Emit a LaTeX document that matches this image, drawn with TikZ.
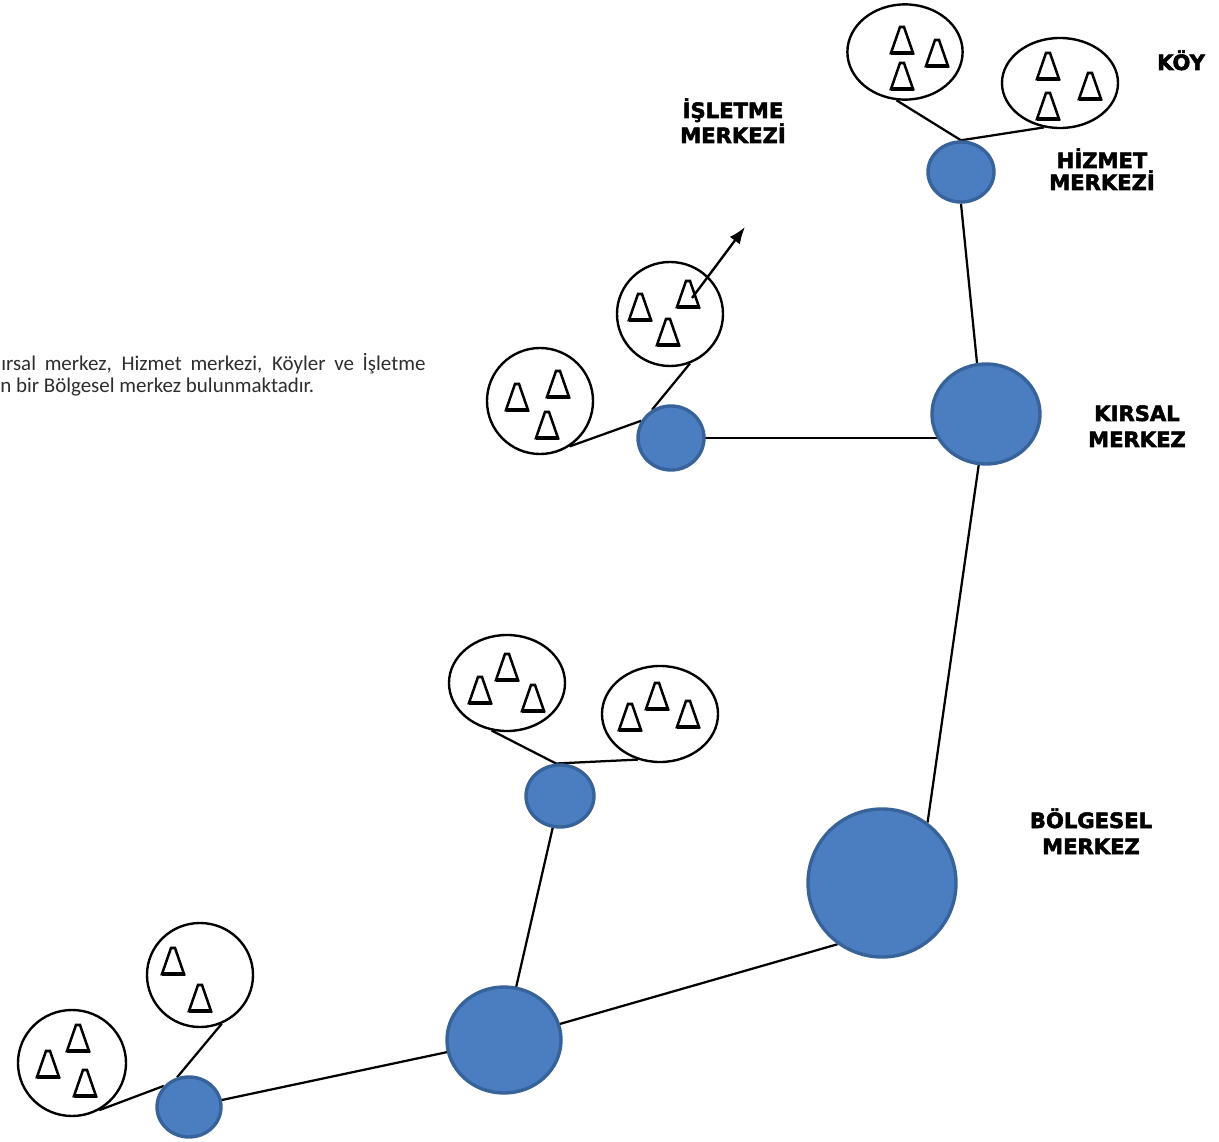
\documentclass[tikz,border=0pt]{standalone}
\usepackage{fontspec}
\setmainfont{Carlito}
\newfontfamily\lblfont[BoldFeatures={FakeBold=2.5}]{DejaVu Sans}
\usetikzlibrary{shapes.geometric,arrows.meta,backgrounds}
\definecolor{nodeblue}{HTML}{4A7EC1}
\definecolor{nodeedge}{HTML}{38629A}
\tikzset{
  village/.style={ellipse, draw=black, line width=1.7pt, inner sep=0pt},
  hub/.style={ellipse, fill=nodeblue, draw=nodeedge, line width=2.4pt, inner sep=0pt},
  link/.style={draw=black, line width=1.6pt},
  lbl/.style={font=\lblfont\bfseries\fontsize{15pt}{18pt}\selectfont, anchor=base, inner sep=0pt},
  body/.style={font=\fontsize{14.9pt}{18pt}\selectfont, text=black!82, inner sep=0pt, anchor=base west},
  tri/.pic={
    \draw[line width=1.8pt, line join=miter] (-11,13) -- (-2,-13) -- (2,-13) -- (11,13) -- cycle;
    \draw[line width=2.6pt] (-11.5,13) -- (11.5,13);
  }
}
\begin{document}
\begin{tikzpicture}[x=0.025cm, y=-0.025cm]
\useasboundingbox (0,0) rectangle (1219,1142);

% centres
\node[hub, minimum width=3.7cm, minimum height=3.7cm] (B) at (882,883) {};
\node[hub, minimum width=2.7cm, minimum height=2.5cm] (K) at (986,414) {};
\node[hub, minimum width=2.85cm, minimum height=2.65cm] (M) at (504,1040) {};
\node[hub, minimum width=1.65cm, minimum height=1.5cm] (H1) at (961,172) {};
\node[hub, minimum width=1.65cm, minimum height=1.6cm] (H2) at (671,438) {};
\node[hub, minimum width=1.7cm, minimum height=1.55cm] (H3) at (560,796) {};
\node[hub, minimum width=1.6cm, minimum height=1.5cm] (H4) at (189,1107) {};

% villages
\node[village, minimum width=2.88cm, minimum height=2.38cm] (E1) at (905,52) {};
\node[village, minimum width=2.9cm, minimum height=2.25cm] (E2) at (1060,83) {};
\node[village, minimum width=2.65cm, minimum height=2.6cm] (E3) at (670,314) {};
\node[village, minimum width=2.65cm, minimum height=2.65cm] (E4) at (540,401) {};
\node[village, minimum width=2.65cm, minimum height=2.6cm] (E5) at (200,975) {};
\node[village, minimum width=2.7cm, minimum height=2.65cm] (E6) at (72,1063) {};
\node[village, minimum width=2.9cm, minimum height=2.4cm] (E7) at (507,683) {};
\node[village, minimum width=2.9cm, minimum height=2.4cm] (E8) at (660,714) {};

% triangles
\pic at (902,40) {tri}; \pic at (937,53) {tri}; \pic at (902,76) {tri};
\pic at (1048,66) {tri}; \pic at (1090,86) {tri}; \pic at (1048,106) {tri};
\pic at (640,307) {tri}; \pic at (688,294) {tri}; \pic at (668,332) {tri};
\pic at (517,397) {tri}; \pic at (558,384) {tri}; \pic at (547,425) {tri};
\pic at (173,961) {tri}; \pic at (200,998) {tri};
\pic at (78,1038) {tri}; \pic at (48,1064) {tri}; \pic at (85,1083) {tri};
\pic at (480,690) {tri}; \pic at (507,667) {tri}; \pic at (533,698) {tri};
\pic at (630,717) {tri}; \pic at (657,696) {tri}; \pic at (688,714) {tri};

% connectors
\begin{scope}[on background layer]
\draw[link] (H1.south) -- (K.100);
\draw[link] (H2.center) -- (H2.center -| K.center);
\draw[link] (K.center) -- (B.53);
\draw[link] (M.center) -- (B.234);
\draw[link] (M.center) -- (H3.center);
\draw[link] (M.center) -- (H4.center);
\draw[link] (E1.260) -- (H1.north) -- (E2.250);
\draw[link] (E3.292) -- (H2.124);
\draw[link] (E4.303) -- (H2.150);
\draw[link] (E7.252) -- (H3.97) -- (E8.244);
\draw[link] (E5.294) -- (H4.112);
\draw[link] (E6.300) -- (H4.140);
\end{scope}

% arrow
\coordinate (arrS) at (692,298);
\coordinate (arrE) at (745,227);
\draw[line width=1.7pt, -{Latex[length=12pt,width=9pt]}] (arrS) -- (arrE);

% labels
\node[lbl] (L1a) at (733,118) {İŞLETME};
\node[lbl] (L1b) at (733,143) {MERKEZİ};
\node[lbl] (L2) at (1181,70) {KÖY};
\node[lbl] (L3a) at (1102,168) {HİZMET};
\node[lbl] (L3b) at (1102,190) {MERKEZİ};
\node[lbl] (L4a) at (1137,421) {KIRSAL};
\node[lbl] (L4b) at (1137,447) {MERKEZ};
\node[lbl] (L5a) at (1091,828) {BÖLGESEL};
\node[lbl] (L5b) at (1091,854) {MERKEZ};

% body text
\node[body] (T1) at (1,371) {\makebox[10.6cm][s]{ırsal merkez, Hizmet merkezi, Köyler ve İşletme}};
\node[body] (T2) at (0,393) {n bir Bölgesel merkez bulunmaktadır.};
\end{tikzpicture}
\end{document}
